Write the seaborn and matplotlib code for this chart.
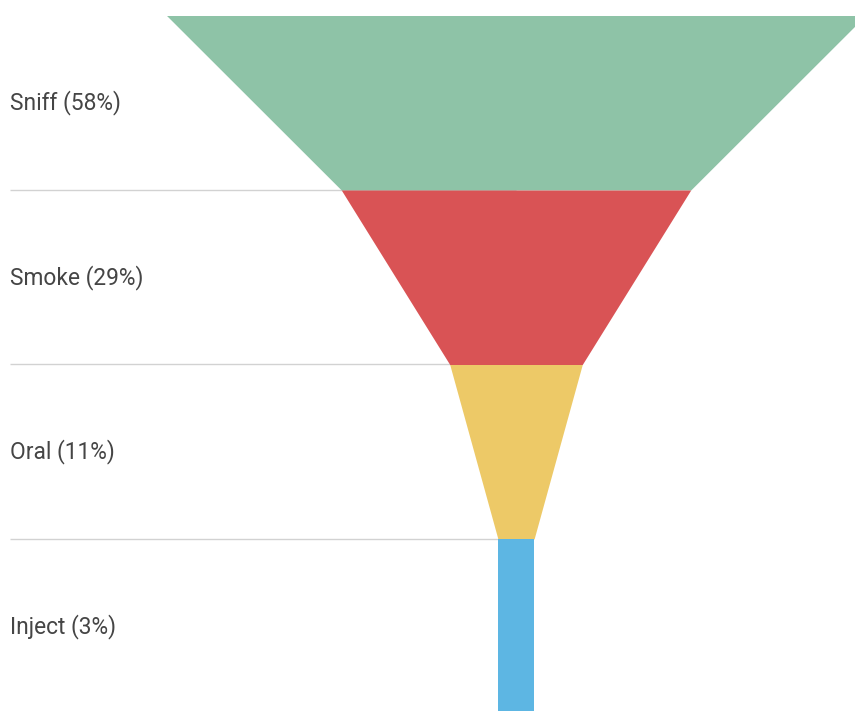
import matplotlib
matplotlib.use("Agg")
import matplotlib.pyplot as plt
import matplotlib.transforms as mtransforms
import seaborn as sns

# Funnel stages and their shares (percent)
stages = ["Sniff", "Smoke", "Oral", "Inject"]
shares = [58, 29, 11, 3]
colors = ["#8EC3A7", "#D95355", "#EDC967", "#5DB6E3"]

sns.set_theme(style="white")
plt.rcParams["font.family"] = ["Roboto", "DejaVu Sans"]

W, H, DPI = 855, 711, 100
fig = plt.figure(figsize=(W / DPI, H / DPI), dpi=DPI)
ax = fig.add_axes([0, 0, 1, 1])

# Horizontal scale: pixels per percentage point, funnel centred at 0
px_per_pct = 12.05
center_px = 516
row_px = 174.5
top_px = 15.5

ax.set_xlim(-center_px / px_per_pct, (W - center_px) / px_per_pct)
ax.set_ylim((H - top_px) / row_px, -top_px / row_px)
ax.axis("off")

n = len(stages)
for i, (v, c) in enumerate(zip(shares, colors)):
    v_next = shares[i + 1] if i + 1 < n else v
    ax.fill_betweenx([i, i + 1], [-v / 2, -v_next / 2], [v / 2, v_next / 2],
                     color=c, linewidth=0, zorder=2)

# Thin separators between rows, running from the labels to the funnel
blend = mtransforms.blended_transform_factory(ax.transAxes, ax.transData)
x_left = 10 / W
for i in range(1, n):
    ax.plot([x_left, center_px / W], [i, i], transform=blend,
            color="#d2d2d2", linewidth=1, zorder=1, solid_capstyle="butt")

for i, (s, v) in enumerate(zip(stages, shares)):
    ax.text(x_left, i + 0.5, f"{s} ({v}%)", transform=blend,
            ha="left", va="center", fontsize=16.4, color="#454545")

fig.savefig("out.png", dpi=DPI, facecolor="white")
